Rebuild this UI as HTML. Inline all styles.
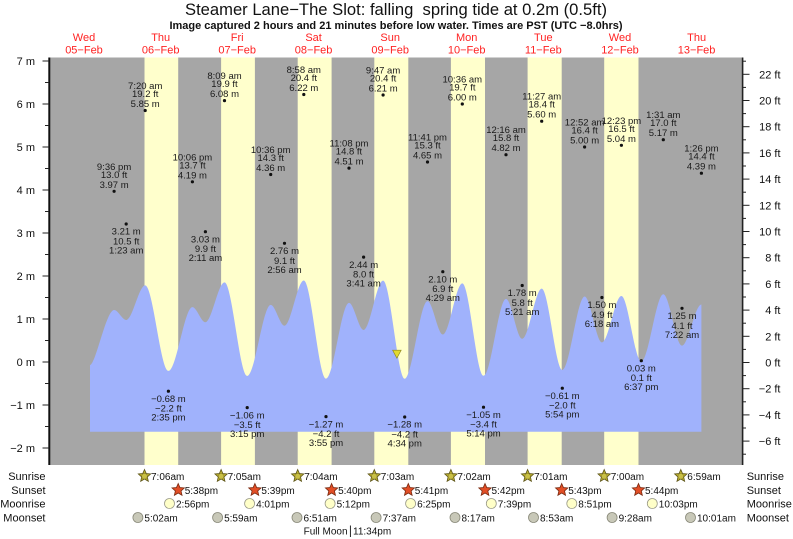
<!DOCTYPE html>
<html><head><meta charset="utf-8"><style>
html,body{margin:0;padding:0;background:#fff;}
svg{display:block;font-family:"Liberation Sans",Arial,sans-serif;}
</style></head><body>
<svg width="793" height="539" viewBox="0 0 793 539" xmlns="http://www.w3.org/2000/svg">
<defs>
<polygon id="star" points="0,-6.5 1.76,-2.43 6.18,-2.01 2.85,0.93 3.82,5.26 0,3 -3.82,5.26 -2.85,0.93 -6.18,-2.01 -1.76,-2.43"/>
</defs>
<rect width="793" height="539" fill="#fff"/>
<!-- title -->
<text x="396" y="15" font-size="16.6" text-anchor="middle" fill="#111">Steamer Lane&#8722;The Slot: falling&#160; spring tide at 0.2m (0.5ft)</text>
<text x="396" y="29" font-size="11" font-weight="bold" text-anchor="middle" fill="#111">Image captured 2 hours and 21 minutes before low water. Times are PST (UTC &#8722;8.0hrs)</text>
<!-- day labels -->
<g font-size="11" fill="#f22" text-anchor="middle">
<text x="84" y="41">Wed</text><text x="84" y="53.3">05&#8722;Feb</text>
<text x="160.7" y="41">Thu</text><text x="160.7" y="53.3">06&#8722;Feb</text>
<text x="237.2" y="41">Fri</text><text x="237.2" y="53.3">07&#8722;Feb</text>
<text x="313.6" y="41">Sat</text><text x="313.6" y="53.3">08&#8722;Feb</text>
<text x="390.2" y="41">Sun</text><text x="390.2" y="53.3">09&#8722;Feb</text>
<text x="466.7" y="41">Mon</text><text x="466.7" y="53.3">10&#8722;Feb</text>
<text x="543.3" y="41">Tue</text><text x="543.3" y="53.3">11&#8722;Feb</text>
<text x="620" y="41">Wed</text><text x="620" y="53.3">12&#8722;Feb</text>
<text x="696.6" y="41">Thu</text><text x="696.6" y="53.3">13&#8722;Feb</text>
</g>
<!-- plot background -->
<rect x="50" y="57.5" width="692.5" height="407.5" fill="#a6a6a6"/>
<g fill="#ffffcc">
<rect x="144.5" y="57.5" width="33.7" height="407.5"/>
<rect x="221.1" y="57.5" width="33.8" height="407.5"/>
<rect x="297.7" y="57.5" width="33.9" height="407.5"/>
<rect x="374.3" y="57.5" width="34.0" height="407.5"/>
<rect x="450.9" y="57.5" width="34.1" height="407.5"/>
<rect x="527.6" y="57.5" width="34.1" height="407.5"/>
<rect x="604.2" y="57.5" width="34.3" height="407.5"/>
</g>
<!-- tide fill -->
<path fill="#a0b2fc" d="M90,431.7 L90,365.2
C96,364 106.1,310.0 114.1,310.0
C118.1,310.0 122.2,319.95 126.2,319.95
C132.5,319.95 138.9,285.4 145.2,285.4
C152.9,285.4 160.7,370.9 168.4,370.9
C176.4,370.9 184.4,307.1 192.4,307.1
C196.7,307.1 201.1,322.3 205.4,322.3
C211.8,322.3 218.1,282.4 224.5,282.4
C232.1,282.4 239.6,375.9 247.2,375.9
C255.0,375.9 262.9,304.9 270.7,304.9
C275.3,304.9 279.9,325.8 284.5,325.8
C290.9,325.8 297.4,280.5 303.8,280.5
C311.2,280.5 318.6,378.6 326.0,378.6
C333.7,378.6 341.3,302.9 349.0,302.9
C353.9,302.9 358.7,330.0 363.6,330.0
C370.1,330.0 376.6,280.6 383.1,280.6
C390.3,280.6 397.5,378.8 404.7,378.8
C412.3,378.8 419.9,301.1 427.5,301.1
C432.6,301.1 437.7,334.5 442.8,334.5
C449.3,334.5 455.8,283.4 462.3,283.4
C469.4,283.4 476.4,375.8 483.5,375.8
C491.0,375.8 498.5,298.9 506.0,298.9
C511.4,298.9 516.8,338.7 522.2,338.7
C528.7,338.7 535.2,288.6 541.7,288.6
C548.6,288.6 555.4,370.0 562.3,370.0
C569.7,370.0 577.2,296.5 584.6,296.5
C590.4,296.5 596.1,342.35 601.9,342.35
C608.4,342.35 614.9,296.0 621.4,296.0
C628.0,296.0 634.7,361.6 641.3,361.6
C648.6,361.6 656.0,294.3 663.3,294.3
C669.5,294.3 675.8,345.6 682.0,345.6
C688.5,345.6 694.9,304.5 701.4,304.5
L701.4,431.7 Z"/>
<!-- current marker -->
<polygon points="392.6,350.2 401.2,350.2 396.9,358.2" fill="#e2da30" stroke="#8a8420" stroke-width="0.6"/>
<!-- axes -->
<line x1="49.3" y1="57.5" x2="49.3" y2="465" stroke="#111" stroke-width="2"/>
<line x1="742.6" y1="57.5" x2="742.6" y2="465" stroke="#222" stroke-width="1.6"/>
<g stroke="#222" stroke-width="1">
<line x1="42.5" y1="61" x2="49" y2="61"/><line x1="45" y1="82.5" x2="49" y2="82.5"/>
<line x1="42.5" y1="104" x2="49" y2="104"/><line x1="45" y1="125.5" x2="49" y2="125.5"/>
<line x1="42.5" y1="147" x2="49" y2="147"/><line x1="45" y1="168.5" x2="49" y2="168.5"/>
<line x1="42.5" y1="190" x2="49" y2="190"/><line x1="45" y1="211.5" x2="49" y2="211.5"/>
<line x1="42.5" y1="233" x2="49" y2="233"/><line x1="45" y1="254.5" x2="49" y2="254.5"/>
<line x1="42.5" y1="276" x2="49" y2="276"/><line x1="45" y1="297.5" x2="49" y2="297.5"/>
<line x1="42.5" y1="319" x2="49" y2="319"/><line x1="45" y1="340.5" x2="49" y2="340.5"/>
<line x1="42.5" y1="362" x2="49" y2="362"/><line x1="45" y1="383.5" x2="49" y2="383.5"/>
<line x1="42.5" y1="405" x2="49" y2="405"/><line x1="45" y1="426.5" x2="49" y2="426.5"/>
<line x1="42.5" y1="448" x2="49" y2="448"/>
<!-- right ticks -->
<line x1="743" y1="61.2" x2="746" y2="61.2"/><line x1="743" y1="74.3" x2="749.5" y2="74.3"/>
<line x1="743" y1="87.4" x2="746" y2="87.4"/><line x1="743" y1="100.5" x2="749.5" y2="100.5"/>
<line x1="743" y1="113.6" x2="746" y2="113.6"/><line x1="743" y1="126.7" x2="749.5" y2="126.7"/>
<line x1="743" y1="139.8" x2="746" y2="139.8"/><line x1="743" y1="152.9" x2="749.5" y2="152.9"/>
<line x1="743" y1="166" x2="746" y2="166"/><line x1="743" y1="179.1" x2="749.5" y2="179.1"/>
<line x1="743" y1="192.2" x2="746" y2="192.2"/><line x1="743" y1="205.3" x2="749.5" y2="205.3"/>
<line x1="743" y1="218.4" x2="746" y2="218.4"/><line x1="743" y1="231.5" x2="749.5" y2="231.5"/>
<line x1="743" y1="244.6" x2="746" y2="244.6"/><line x1="743" y1="257.7" x2="749.5" y2="257.7"/>
<line x1="743" y1="270.8" x2="746" y2="270.8"/><line x1="743" y1="283.9" x2="749.5" y2="283.9"/>
<line x1="743" y1="297" x2="746" y2="297"/><line x1="743" y1="310.1" x2="749.5" y2="310.1"/>
<line x1="743" y1="323.2" x2="746" y2="323.2"/><line x1="743" y1="336.3" x2="749.5" y2="336.3"/>
<line x1="743" y1="349.4" x2="746" y2="349.4"/><line x1="743" y1="362.5" x2="749.5" y2="362.5"/>
<line x1="743" y1="375.6" x2="746" y2="375.6"/><line x1="743" y1="388.7" x2="749.5" y2="388.7"/>
<line x1="743" y1="401.8" x2="746" y2="401.8"/><line x1="743" y1="414.9" x2="749.5" y2="414.9"/>
<line x1="743" y1="428" x2="746" y2="428"/><line x1="743" y1="441.1" x2="749.5" y2="441.1"/>
<line x1="743" y1="454.2" x2="746" y2="454.2"/>
</g>
<g font-size="11" fill="#111" text-anchor="end">
<text x="35" y="65">7 m</text><text x="35" y="108">6 m</text><text x="35" y="151">5 m</text>
<text x="35" y="194">4 m</text><text x="35" y="237">3 m</text><text x="35" y="280">2 m</text>
<text x="35" y="323">1 m</text><text x="35" y="366">0 m</text><text x="35" y="409">&#8722;1 m</text>
<text x="35" y="452">&#8722;2 m</text>
<text x="780.5" y="78.3">22 ft</text><text x="780.5" y="104.5">20 ft</text><text x="780.5" y="130.7">18 ft</text>
<text x="780.5" y="156.9">16 ft</text><text x="780.5" y="183.1">14 ft</text><text x="780.5" y="209.3">12 ft</text>
<text x="780.5" y="235.5">10 ft</text><text x="780.5" y="261.7">8 ft</text><text x="780.5" y="287.9">6 ft</text>
<text x="780.5" y="314.1">4 ft</text><text x="780.5" y="340.3">2 ft</text><text x="780.5" y="366.5">0 ft</text>
<text x="780.5" y="392.7">&#8722;2 ft</text><text x="780.5" y="418.9">&#8722;4 ft</text><text x="780.5" y="445.1">&#8722;6 ft</text>
</g>
<!-- tide annotations -->
<g fill="#111">
<circle cx="114.1" cy="191.3" r="1.6"/><circle cx="126.2" cy="224" r="1.6"/>
<circle cx="145.2" cy="110.5" r="1.6"/><circle cx="168.4" cy="391.2" r="1.6"/>
<circle cx="192.4" cy="181.8" r="1.6"/><circle cx="205.4" cy="231.7" r="1.6"/>
<circle cx="224.5" cy="100.6" r="1.6"/><circle cx="247.2" cy="407.6" r="1.6"/>
<circle cx="270.7" cy="174.5" r="1.6"/><circle cx="284.5" cy="243.3" r="1.6"/>
<circle cx="303.8" cy="94.5" r="1.6"/><circle cx="326" cy="416.6" r="1.6"/>
<circle cx="349" cy="168.1" r="1.6"/><circle cx="363.6" cy="257.1" r="1.6"/>
<circle cx="383.1" cy="95" r="1.6"/><circle cx="404.7" cy="417" r="1.6"/>
<circle cx="427.5" cy="162" r="1.6"/><circle cx="442.8" cy="271.7" r="1.6"/>
<circle cx="462.3" cy="104" r="1.6"/><circle cx="483.5" cy="407.2" r="1.6"/>
<circle cx="506" cy="154.7" r="1.6"/><circle cx="522.2" cy="285.5" r="1.6"/>
<circle cx="541.7" cy="121.2" r="1.6"/><circle cx="562.3" cy="388.2" r="1.6"/>
<circle cx="584.6" cy="147" r="1.6"/><circle cx="601.9" cy="297.5" r="1.6"/>
<circle cx="621.4" cy="145.3" r="1.6"/><circle cx="641.3" cy="360.7" r="1.6"/>
<circle cx="663.3" cy="139.7" r="1.6"/><circle cx="682" cy="308.3" r="1.6"/>
<circle cx="701.4" cy="173.2" r="1.6"/>
</g>
<g font-size="9.5" fill="#1a1a1a" text-anchor="middle">
<!-- highs -->
<text x="114.1" y="169.8">9:36 pm</text><text x="114.1" y="177.8">13.0 ft</text><text x="114.1" y="187.8">3.97 m</text>
<text x="145.2" y="89">7:20 am</text><text x="145.2" y="97">19.2 ft</text><text x="145.2" y="107">5.85 m</text>
<text x="192.4" y="160.3">10:06 pm</text><text x="192.4" y="168.3">13.7 ft</text><text x="192.4" y="178.3">4.19 m</text>
<text x="224.5" y="79.1">8:09 am</text><text x="224.5" y="87.1">19.9 ft</text><text x="224.5" y="97.1">6.08 m</text>
<text x="270.7" y="153">10:36 pm</text><text x="270.7" y="161">14.3 ft</text><text x="270.7" y="171">4.36 m</text>
<text x="303.8" y="73">8:58 am</text><text x="303.8" y="81">20.4 ft</text><text x="303.8" y="91">6.22 m</text>
<text x="349" y="146.6">11:08 pm</text><text x="349" y="154.6">14.8 ft</text><text x="349" y="164.6">4.51 m</text>
<text x="383.1" y="73.5">9:47 am</text><text x="383.1" y="81.5">20.4 ft</text><text x="383.1" y="91.5">6.21 m</text>
<text x="427.5" y="140.5">11:41 pm</text><text x="427.5" y="148.5">15.3 ft</text><text x="427.5" y="158.5">4.65 m</text>
<text x="462.3" y="82.5">10:36 am</text><text x="462.3" y="90.5">19.7 ft</text><text x="462.3" y="100.5">6.00 m</text>
<text x="506" y="133.2">12:16 am</text><text x="506" y="141.2">15.8 ft</text><text x="506" y="151.2">4.82 m</text>
<text x="541.7" y="99.7">11:27 am</text><text x="541.7" y="107.7">18.4 ft</text><text x="541.7" y="117.7">5.60 m</text>
<text x="584.6" y="125.5">12:52 am</text><text x="584.6" y="133.5">16.4 ft</text><text x="584.6" y="143.5">5.00 m</text>
<text x="621.4" y="123.8">12:23 pm</text><text x="621.4" y="131.8">16.5 ft</text><text x="621.4" y="141.8">5.04 m</text>
<text x="663.3" y="118.2">1:31 am</text><text x="663.3" y="126.2">17.0 ft</text><text x="663.3" y="136.2">5.17 m</text>
<text x="701.4" y="151.7">1:26 pm</text><text x="701.4" y="159.7">14.4 ft</text><text x="701.4" y="169.7">4.39 m</text>
<!-- lows -->
<text x="126.2" y="234.7">3.21 m</text><text x="126.2" y="244.5">10.5 ft</text><text x="126.2" y="253.5">1:23 am</text>
<text x="168.4" y="401.9">&#8722;0.68 m</text><text x="168.4" y="411.7">&#8722;2.2 ft</text><text x="168.4" y="420.7">2:35 pm</text>
<text x="205.4" y="242.4">3.03 m</text><text x="205.4" y="252.2">9.9 ft</text><text x="205.4" y="261.2">2:11 am</text>
<text x="247.2" y="418.3">&#8722;1.06 m</text><text x="247.2" y="428.1">&#8722;3.5 ft</text><text x="247.2" y="437.1">3:15 pm</text>
<text x="284.5" y="254">2.76 m</text><text x="284.5" y="263.8">9.1 ft</text><text x="284.5" y="272.8">2:56 am</text>
<text x="326" y="427.3">&#8722;1.27 m</text><text x="326" y="437.1">&#8722;4.2 ft</text><text x="326" y="446.1">3:55 pm</text>
<text x="363.6" y="267.8">2.44 m</text><text x="363.6" y="277.6">8.0 ft</text><text x="363.6" y="286.6">3:41 am</text>
<text x="404.7" y="427.7">&#8722;1.28 m</text><text x="404.7" y="437.5">&#8722;4.2 ft</text><text x="404.7" y="446.5">4:34 pm</text>
<text x="442.8" y="282.4">2.10 m</text><text x="442.8" y="292.2">6.9 ft</text><text x="442.8" y="301.2">4:29 am</text>
<text x="483.5" y="417.9">&#8722;1.05 m</text><text x="483.5" y="427.7">&#8722;3.4 ft</text><text x="483.5" y="436.7">5:14 pm</text>
<text x="522.2" y="296.2">1.78 m</text><text x="522.2" y="306">5.8 ft</text><text x="522.2" y="315">5:21 am</text>
<text x="562.3" y="398.9">&#8722;0.61 m</text><text x="562.3" y="408.7">&#8722;2.0 ft</text><text x="562.3" y="417.7">5:54 pm</text>
<text x="601.9" y="308.2">1.50 m</text><text x="601.9" y="318">4.9 ft</text><text x="601.9" y="327">6:18 am</text>
<text x="641.3" y="371.4">0.03 m</text><text x="641.3" y="381.2">0.1 ft</text><text x="641.3" y="390.2">6:37 pm</text>
<text x="682" y="319">1.25 m</text><text x="682" y="328.8">4.1 ft</text><text x="682" y="337.8">7:22 am</text>
</g>
<!-- bottom rows labels -->
<g font-size="11" fill="#111">
<g text-anchor="end">
<text x="45.5" y="480">Sunrise</text><text x="45.5" y="494">Sunset</text>
<text x="45.5" y="507.5">Moonrise</text><text x="45.5" y="521.5">Moonset</text>
</g>
<text x="746.7" y="480">Sunrise</text><text x="746.7" y="494">Sunset</text>
<text x="746.7" y="507.5">Moonrise</text><text x="746.7" y="521.5">Moonset</text>
</g>
<!-- sunrise stars -->
<g fill="#bdb22e" stroke="#5e5518" stroke-width="0.8">
<use href="#star" x="144.5" y="476"/><use href="#star" x="221.1" y="476"/>
<use href="#star" x="297.7" y="476"/><use href="#star" x="374.3" y="476"/>
<use href="#star" x="450.9" y="476"/><use href="#star" x="527.6" y="476"/>
<use href="#star" x="604.2" y="476"/><use href="#star" x="680.8" y="476"/>
</g>
<g fill="#c9c046" stroke="#7a7020" stroke-width="0.5">
<circle cx="144.5" cy="476.3" r="2.8"/><circle cx="221.1" cy="476.3" r="2.8"/>
<circle cx="297.7" cy="476.3" r="2.8"/><circle cx="374.3" cy="476.3" r="2.8"/>
<circle cx="450.9" cy="476.3" r="2.8"/><circle cx="527.6" cy="476.3" r="2.8"/>
<circle cx="604.2" cy="476.3" r="2.8"/><circle cx="680.8" cy="476.3" r="2.8"/>
</g>
<!-- sunset stars -->
<g fill="#e24e26" stroke="#7a2a10" stroke-width="0.8">
<use href="#star" x="178.2" y="490"/><use href="#star" x="254.9" y="490"/>
<use href="#star" x="331.6" y="490"/><use href="#star" x="408.3" y="490"/>
<use href="#star" x="485" y="490"/><use href="#star" x="561.7" y="490"/>
<use href="#star" x="638.5" y="490"/>
</g>
<!-- moonrise -->
<g fill="#ffffc8" stroke="#9a9a88" stroke-width="0.8">
<circle cx="169.5" cy="503.5" r="5"/><circle cx="249.6" cy="503.5" r="5"/>
<circle cx="330.1" cy="503.5" r="5"/><circle cx="410.6" cy="503.5" r="5"/>
<circle cx="491.3" cy="503.5" r="5"/><circle cx="571.8" cy="503.5" r="5"/>
<circle cx="652.3" cy="503.5" r="5"/>
</g>
<!-- moonset -->
<g fill="#c8c8b8" stroke="#888878" stroke-width="0.8">
<circle cx="137.9" cy="517.5" r="5"/><circle cx="217.6" cy="517.5" r="5"/>
<circle cx="297" cy="517.5" r="5"/><circle cx="376.1" cy="517.5" r="5"/>
<circle cx="455" cy="517.5" r="5"/><circle cx="533.5" cy="517.5" r="5"/>
<circle cx="612.1" cy="517.5" r="5"/><circle cx="690.5" cy="517.5" r="5"/>
</g>
<g font-size="10" fill="#111">
<text x="151" y="480">7:06am</text><text x="227.6" y="480">7:05am</text>
<text x="304.2" y="480">7:04am</text><text x="380.8" y="480">7:03am</text>
<text x="457.4" y="480">7:02am</text><text x="534.1" y="480">7:01am</text>
<text x="610.7" y="480">7:00am</text><text x="687.3" y="480">6:59am</text>
<text x="184.7" y="494">5:38pm</text><text x="261.4" y="494">5:39pm</text>
<text x="338.1" y="494">5:40pm</text><text x="414.8" y="494">5:41pm</text>
<text x="491.5" y="494">5:42pm</text><text x="568.2" y="494">5:43pm</text>
<text x="645" y="494">5:44pm</text>
<text x="176" y="507.5">2:56pm</text><text x="256.1" y="507.5">4:01pm</text>
<text x="336.6" y="507.5">5:12pm</text><text x="417.1" y="507.5">6:25pm</text>
<text x="497.8" y="507.5">7:39pm</text><text x="578.3" y="507.5">8:51pm</text>
<text x="658.8" y="507.5">10:03pm</text>
<text x="144.4" y="521.5">5:02am</text><text x="224.1" y="521.5">5:59am</text>
<text x="303.5" y="521.5">6:51am</text><text x="382.6" y="521.5">7:37am</text>
<text x="461.5" y="521.5">8:17am</text><text x="540" y="521.5">8:53am</text>
<text x="618.6" y="521.5">9:28am</text><text x="697" y="521.5">10:01am</text>
<text x="347.5" y="534.5" text-anchor="end">Full Moon</text>
<text x="353" y="534.5">11:34pm</text>
</g>
<line x1="350.4" y1="525.5" x2="350.4" y2="537" stroke="#111" stroke-width="0.9"/>
</svg>
</body></html>
